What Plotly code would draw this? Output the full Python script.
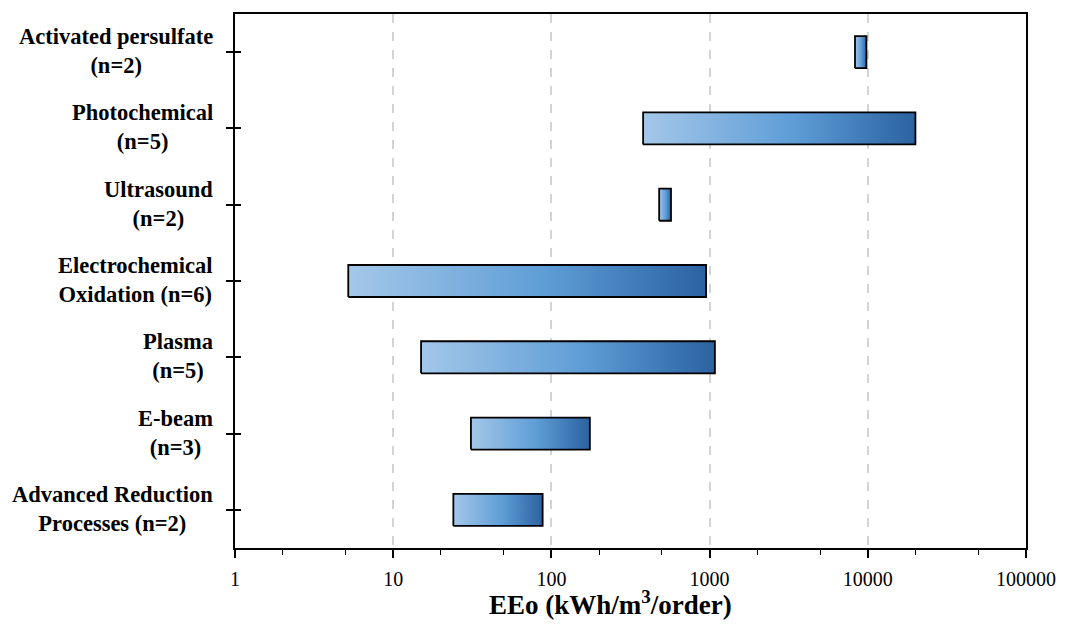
import plotly.graph_objects as go

categories = [
    "Advanced Reduction<br>Processes (n=2)",
    "E-beam<br>(n=3)",
    "Plasma<br>(n=5)",
    "Electrochemical<br>Oxidation (n=6)",
    "Ultrasound<br>(n=2)",
    "Photochemical<br>(n=5)",
    "Activated persulfate<br>(n=2)",
]
eeo_low = [24, 31, 15, 5.2, 480, 380, 8300]
eeo_high = [88, 175, 1080, 950, 570, 20000, 9800]
x_tickvals = [1, 10, 100, 1000, 10000, 100000]
x_ticktext = ["1", "10", "100", "1000", "10000", "100000"]
x_title = "EEo (kWh/m<sup>3</sup>/order)"

HALF = 0.21
FONT = "Liberation Serif"
n = len(categories)

fig = go.Figure()
for i, (lo, hi) in enumerate(zip(eeo_low, eeo_high)):
    fig.add_trace(go.Scatter(
        x=[lo, hi, hi, lo, lo],
        y=[i - HALF, i - HALF, i + HALF, i + HALF, i - HALF],
        mode="lines",
        fill="toself",
        fillgradient=dict(
            type="horizontal",
            colorscale=[[0, "#A4C7E9"], [0.55, "#5E9DD6"], [1, "#2B63A0"]],
        ),
        line=dict(color="black", width=1.8),
        hoverinfo="skip",
        showlegend=False,
    ))

for i, c in enumerate(categories):
    fig.add_annotation(
        x=0, xref="paper", y=i, yref="y",
        text="<b>" + c + "</b>", showarrow=False,
        xanchor="right", yanchor="middle", align="center",
        xshift=-20, yshift=1,
        font=dict(family=FONT, size=22.5, color="black"),
    )

fig.add_annotation(
    x=0.5, xref="paper", y=0, yref="paper",
    text="<b>" + x_title + "</b>", showarrow=False,
    xanchor="center", yanchor="top", xshift=-20, yshift=-36,
    font=dict(family=FONT, size=27, color="black"),
)

# invisible trace on overlay axis for inside ticks
fig.add_trace(go.Scatter(x=[1], y=[0], yaxis="y2", mode="markers",
                         marker=dict(opacity=0), hoverinfo="skip", showlegend=False))

fig.update_layout(
    width=1068, height=625,
    margin=dict(l=235, r=41, t=12, b=77),
    paper_bgcolor="white", plot_bgcolor="white",
    font=dict(family=FONT, color="black"),
    xaxis=dict(
        type="log", range=[0, 5],
        tickvals=x_tickvals, ticktext=x_ticktext,
        tickfont=dict(size=20), ticklabelstandoff=4,
        ticks="outside", ticklen=8, tickwidth=1.5, tickcolor="black",
        showline=True, linecolor="black", linewidth=1.8, mirror=True,
        showgrid=True, gridcolor="#D4D4D4", gridwidth=1.5, griddash="dash",
        zeroline=False,
        minor=dict(ticks="outside", ticklen=5, tickwidth=1.3, tickcolor="black",
                   showgrid=False),
    ),
    yaxis=dict(
        range=[-0.5, 6.5],
        tickvals=list(range(n)), ticktext=[""] * n,
        ticks="outside", ticklen=7, tickwidth=1.5, tickcolor="black",
        showline=True, linecolor="black", linewidth=1.8, mirror=True,
        showgrid=False, zeroline=False,
    ),
    yaxis2=dict(
        overlaying="y", side="left", range=[-0.5, 6.5],
        tickvals=list(range(n)), ticktext=[""] * n,
        ticks="inside", ticklen=6, tickwidth=1.5, tickcolor="black",
        showline=False, showgrid=False, zeroline=False,
    ),
)

fig.write_html("out.html")
